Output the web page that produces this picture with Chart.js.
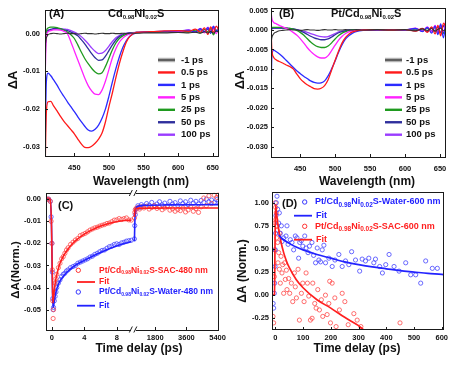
<!DOCTYPE html>
<html>
<head>
<meta charset="utf-8">
<title>Transient absorption</title>
<script src="https://cdn.jsdelivr.net/npm/chart.js@4.4.1/dist/chart.umd.min.js"></script>
<style>
  html, body { margin: 0; padding: 0; background: #fff; }
  #wrap { position: relative; width: 459px; height: 366px; overflow: hidden; background: #fff; }
  #wrap canvas { position: absolute; }
</style>
</head>
<body>
<div id="wrap">
  <canvas id="chartA" width="229" height="192" style="left:0;top:0"></canvas>
  <canvas id="chartB" width="230" height="192" style="left:229px;top:0"></canvas>
  <canvas id="chartC" width="229" height="183" style="left:0;top:183px"></canvas>
  <canvas id="chartD" width="230" height="183" style="left:229px;top:183px"></canvas>
</div>
<script>
const FONT = '"Liberation Sans", Arial, sans-serif';
const INK = "#111111";

// ---------------------- (A) / (B) spectra ----------------------
const wavelengths = [408, 409.5, 412, 416, 420, 425, 430, 435, 440, 445, 450, 455, 460, 465, 470, 475, 480, 485, 490, 495, 500, 505, 510, 515, 520, 525, 530, 540, 560, 580, 600, 615, 625, 632, 638, 643, 647, 651, 655, 659];
const delayLabels = ["-1 ps", "0.5 ps", "1 ps", "5 ps", "25 ps", "50 ps", "100 ps"];

// Cd0.98Ni0.02S
const aM1 = [-0.003, -0.0012, -0.0003, 0, 0.0001, 0, -0.0001, 0, 0.0001, 0, 0, -0.0001, 0, 0.0001, 0, 0, -0.0001, 0, 0.0001, 0, 0, 0.0001, 0, 0, 0.0001, 0, 0.0001, 0.0001, 0.0002, 0.0002, 0.0003, 0.0002, 0.0004, 0.0001, 0.0005, 0.0002, 0.0006, 0.0001, 0.0007, 0.0003];
const aP05 = [-0.034, -0.021, -0.0181, -0.0180, -0.0192, -0.0205, -0.0220, -0.0233, -0.0244, -0.0255, -0.0266, -0.0280, -0.0293, -0.0302, -0.0303, -0.0299, -0.0291, -0.0280, -0.0264, -0.0234, -0.0194, -0.0157, -0.0117, -0.0080, -0.0049, -0.0023, -0.0008, 0.0003, 0.0005, 0.0007, 0.0008, 0.0006, 0.0012, 0.0004, 0.0015, -0.0002, 0.0018, 0.0003, 0.0020, 0.0008];
const aP1 = [-0.028, -0.013, -0.0105, -0.0112, -0.0123, -0.0137, -0.0153, -0.0167, -0.0181, -0.0194, -0.0207, -0.0221, -0.0234, -0.0246, -0.0256, -0.0259, -0.0254, -0.0243, -0.0225, -0.0200, -0.0166, -0.0128, -0.0093, -0.0062, -0.0037, -0.0019, -0.0007, 0.0002, 0.0005, 0.0006, 0.0007, 0.0009, 0.0004, 0.0013, 0.0005, 0.0016, 0.0002, 0.0019, 0.0006, 0.0014];
const aP5 = [-0.010, -0.001, 0.0005, 0.0008, 0.0010, 0.0010, 0.0009, 0.0006, 0.0000, -0.0022, -0.0046, -0.0070, -0.0094, -0.0118, -0.0138, -0.0152, -0.0161, -0.0162, -0.0150, -0.0126, -0.0095, -0.0064, -0.0040, -0.0023, -0.0012, -0.0005, -0.0001, 0.0003, 0.0005, 0.0006, 0.0005, 0.0010, 0.0003, 0.0014, 0.0002, 0.0017, 0.0006, 0.0012, 0.0000, 0.0018];
const aP25 = [-0.006, 0.0005, 0.0015, 0.0017, 0.0017, 0.0016, 0.0013, 0.0009, 0.0004, -0.0003, -0.0013, -0.0030, -0.0049, -0.0066, -0.0080, -0.0092, -0.0102, -0.0107, -0.0104, -0.0087, -0.0065, -0.0043, -0.0025, -0.0013, -0.0006, -0.0002, 0.0000, 0.0003, 0.0004, 0.0005, 0.0006, 0.0004, 0.0009, 0.0002, 0.0011, 0.0005, 0.0013, -0.0003, 0.0010, 0.0004];
const aP50 = [-0.004, 0.0002, 0.0008, 0.0011, 0.0013, 0.0013, 0.0012, 0.0010, 0.0008, 0.0004, 0.0000, -0.0006, -0.0016, -0.0027, -0.0040, -0.0053, -0.0064, -0.0071, -0.0070, -0.0060, -0.0045, -0.0030, -0.0017, -0.0008, -0.0003, 0.0000, 0.0002, 0.0003, 0.0004, 0.0005, 0.0005, 0.0007, 0.0003, 0.0010, 0.0004, 0.0012, 0.0001, 0.0015, 0.0006, 0.0011];
const aP100 = [-0.002, 0.0004, 0.0009, 0.0011, 0.0012, 0.0013, 0.0013, 0.0012, 0.0011, 0.0008, 0.0004, -0.0001, -0.0008, -0.0017, -0.0027, -0.0038, -0.0047, -0.0053, -0.0052, -0.0045, -0.0033, -0.0021, -0.0011, -0.0005, -0.0001, 0.0001, 0.0002, 0.0003, 0.0004, 0.0005, 0.0006, 0.0008, 0.0004, 0.0012, 0.0006, 0.0014, 0.0008, 0.0020, 0.0005, 0.0016];

// Pt/Cd0.98Ni0.02S
const bM1 = [-0.004, -0.0020, -0.0010, -0.0005, -0.0002, -0.0001, 0, 0.0001, 0, 0, -0.0001, 0, 0.0001, 0, 0, -0.0001, 0, 0.0001, 0, 0, 0.0001, 0, 0, 0.0001, 0, 0, 0.0001, 0, 0.0001, 0, 0.0001, -0.0002, 0.0003, -0.0001, 0.0004, -0.0003, 0.0002, 0.0005, -0.0002, 0.0004];
const bP05 = [0.003, -0.005, -0.0070, -0.0077, -0.0081, -0.0085, -0.0090, -0.0094, -0.0100, -0.0113, -0.0125, -0.0134, -0.0141, -0.0146, -0.0151, -0.0152, -0.0150, -0.0143, -0.0128, -0.0103, -0.0078, -0.0054, -0.0033, -0.0019, -0.0010, -0.0005, -0.0002, 0.0000, 0.0001, 0.0000, 0.0001, -0.0003, 0.0004, -0.0006, 0.0008, -0.0010, 0.0012, -0.0015, 0.0018, 0.0005];
const bP1 = [-0.0227, -0.0070, -0.0052, -0.0056, -0.0061, -0.0069, -0.0078, -0.0087, -0.0096, -0.0105, -0.0112, -0.0119, -0.0125, -0.0131, -0.0135, -0.0137, -0.0136, -0.0131, -0.0118, -0.0100, -0.0080, -0.0057, -0.0038, -0.0023, -0.0014, -0.0008, -0.0004, -0.0001, 0.0000, 0.0001, 0.0000, 0.0004, -0.0004, 0.0007, -0.0008, 0.0010, -0.0012, 0.0016, -0.0020, 0.0030];
const bP5 = [0.0058, 0.0030, 0.0020, 0.0016, 0.0012, 0.0008, 0.0004, 0.0000, -0.0006, -0.0013, -0.0022, -0.0033, -0.0045, -0.0055, -0.0063, -0.0069, -0.0072, -0.0072, -0.0066, -0.0053, -0.0039, -0.0026, -0.0016, -0.0009, -0.0004, -0.0002, 0.0000, 0.0001, 0.0000, 0.0001, 0.0000, 0.0005, -0.0003, 0.0008, -0.0005, 0.0012, -0.0008, 0.0010, -0.0004, 0.0035];
const bP25 = [0.0008, 0.0007, 0.0007, 0.0007, 0.0007, 0.0006, 0.0005, 0.0004, 0.0002, -0.0001, -0.0006, -0.0013, -0.0022, -0.0031, -0.0038, -0.0043, -0.0045, -0.0045, -0.0041, -0.0033, -0.0023, -0.0014, -0.0008, -0.0004, -0.0001, 0.0000, 0.0000, 0.0001, 0.0000, 0.0001, 0.0000, 0.0003, -0.0002, 0.0005, -0.0004, 0.0008, -0.0006, 0.0010, -0.0008, 0.0012];
const bP50 = [-0.0010, 0.0003, 0.0005, 0.0005, 0.0005, 0.0005, 0.0005, 0.0004, 0.0003, 0.0001, -0.0002, -0.0006, -0.0011, -0.0016, -0.0020, -0.0023, -0.0025, -0.0025, -0.0023, -0.0018, -0.0012, -0.0007, -0.0004, -0.0002, 0.0000, 0.0000, 0.0000, 0.0000, 0.0001, 0.0000, 0.0001, -0.0002, 0.0003, -0.0004, 0.0006, -0.0003, 0.0009, -0.0007, 0.0011, -0.0006];
const bP100 = [0.0000, 0.0004, 0.0005, 0.0005, 0.0005, 0.0004, 0.0004, 0.0003, 0.0002, 0.0001, -0.0001, -0.0003, -0.0006, -0.0009, -0.0012, -0.0015, -0.0017, -0.0018, -0.0017, -0.0013, -0.0009, -0.0005, -0.0003, -0.0001, 0.0000, 0.0000, 0.0001, 0.0000, 0.0001, 0.0001, 0.0000, 0.0002, -0.0003, 0.0006, -0.0002, 0.0009, -0.0005, 0.0013, -0.0009, 0.0020];

const specTicks = [450, 500, 550, 600, 650];
const aYTicks = [-0.03, -0.02, -0.01, 0];
const bYTicks = [-0.03, -0.025, -0.02, -0.015, -0.01, -0.005, 0, 0.005];

// ---------------------- (C) kinetics at 480 nm ----------------------
const cEarlyT = [-0.6, -0.4, -0.2, -0.1, 0, 0.05, 0.1, 0.15, 0.2, 0.3, 0.4, 0.5, 0.6, 0.8, 1.0, 1.2, 1.4, 1.6, 1.8, 2.0, 2.3, 2.6, 2.9, 3.2, 3.5, 3.8, 4.1, 4.4, 4.7, 5.0, 5.3, 5.6, 5.9, 6.2, 6.5, 6.8, 7.1, 7.4, 7.7, 8.0, 8.3, 8.6, 8.9, 9.2, 9.5, 9.8];
const cSacEarly = [0, 0, -0.001, -0.010, -0.020, -0.032, -0.046, -0.054, -0.050, -0.042, -0.038, -0.036, -0.034, -0.031, -0.029, -0.027, -0.026, -0.0245, -0.023, -0.022, -0.0205, -0.0195, -0.0185, -0.0178, -0.0165, -0.016, -0.0155, -0.0148, -0.014, -0.0135, -0.013, -0.0127, -0.0122, -0.0118, -0.0115, -0.011, -0.0108, -0.0102, -0.0095, -0.0094, -0.0088, -0.0092, -0.0088, -0.0085, -0.0094, -0.0095];
const cWaterEarly = [0, 0, -0.001, -0.008, -0.020, -0.033, -0.045, -0.050, -0.049, -0.046, -0.044, -0.042, -0.040, -0.038, -0.0365, -0.035, -0.034, -0.0335, -0.0325, -0.032, -0.031, -0.0305, -0.030, -0.029, -0.0285, -0.028, -0.0275, -0.027, -0.0262, -0.0258, -0.025, -0.0245, -0.0238, -0.0232, -0.023, -0.0222, -0.0215, -0.0212, -0.0205, -0.0202, -0.0205, -0.0198, -0.0195, -0.019, -0.0188, -0.0186];
const cLateT = [600, 620, 650, 700, 800, 900, 1000, 1150, 1300, 1450, 1600, 1750, 1900, 2050, 2200, 2350, 2500, 2650, 2800, 2950, 3100, 3250, 3400, 3550, 3700, 3850, 4000, 4150, 4300, 4450, 4600, 4750, 4900, 5050, 5200, 5350, 5450];
const cSacLate = [-0.0085, -0.0060, -0.0048, -0.0042, -0.0038, -0.0045, -0.0035, -0.0040, -0.0032, -0.0045, -0.0038, -0.0030, -0.0042, -0.0036, -0.0048, -0.0040, -0.0033, -0.0050, -0.0044, -0.0055, -0.0047, -0.0052, -0.0040, -0.0058, -0.0049, -0.0036, -0.0055, -0.0043, -0.0060, -0.0035, 0.0005, -0.0030, 0.0015, -0.0020, 0.0018, 0.0008, 0.0020];
const cWaterLate = [-0.0180, -0.0120, -0.0070, -0.0045, -0.0030, -0.0038, -0.0025, -0.0032, -0.0020, -0.0028, -0.0015, -0.0030, -0.0022, -0.0012, -0.0026, -0.0018, -0.0030, -0.0010, -0.0022, -0.0016, -0.0028, -0.0008, -0.0020, -0.0012, -0.0025, -0.0005, -0.0018, -0.0010, -0.0022, -0.0006, -0.0015, 0.0000, -0.0012, -0.0004, -0.0016, -0.0002, -0.0010];
const cFitT = [-0.6, -0.2, -0.05, 0.05, 0.12, 0.2, 0.3, 0.5, 0.75, 1, 1.5, 2, 2.5, 3, 4, 5, 6, 7, 8, 9, 9.8];
const cSacFit = [0, 0, -0.012, -0.035, -0.047, -0.045, -0.041, -0.036, -0.032, -0.029, -0.0252, -0.0225, -0.0203, -0.0185, -0.0158, -0.0138, -0.0122, -0.0110, -0.0102, -0.0097, -0.0095];
const cWaterFit = [0, 0, -0.012, -0.036, -0.049, -0.0485, -0.046, -0.042, -0.039, -0.037, -0.0345, -0.0325, -0.031, -0.0297, -0.0277, -0.0258, -0.0241, -0.0226, -0.0212, -0.0200, -0.0192];
const cFitLateT = [600, 630, 680, 800, 1200, 2500, 5450];
const cSacFitLate = [-0.0080, -0.0052, -0.0043, -0.0041, -0.0041, -0.0040, -0.0040];
const cWaterFitLate = [-0.0190, -0.0090, -0.0045, -0.0032, -0.0028, -0.0026, -0.0025];
const cTickTimes = [0, 4, 8, 1800, 3600, 5400];
const cYTicks = [-0.05, -0.04, -0.03, -0.02, -0.01, 0];

// ---------------------- (D) kinetics at 600 nm ----------------------
const dWaterPts = [[-8, -0.09], [-6, -0.14], [-3.6, 0.02], [-2.4, 0.13], [-1.2, 0.31], [0, 0.49], [1.2, 0.67], [2.4, 0.86], [3.6, 1.0], [6, 1.07], [8.4, 0.93], [12, 0.78], [14.5, 0.89], [18, 0.67], [21.7, 0.75], [24, 0.58], [30, 0.62], [38.5, 0.64], [42, 0.75], [46, 0.55], [54, 0.60], [60, 0.57], [66, 0.49], [72, 0.64], [78, 0.62], [84, 0.40], [88, 0.57], [94, 0.59], [99, 0.53], [106, 0.64], [111, 0.51], [118, 0.46], [123, 0.53], [132, 0.57], [138, 0.43], [145, 0.35], [151, 0.51], [157, 0.38], [163, 0.36], [169, 0.49], [175, 0.54], [181, 0.35], [193, 0.40], [205, 0.31], [215, 0.38], [229, 0.44], [241, 0.31], [253, 0.37], [265, 0.33], [275, 0.47], [289, 0.38], [304, 0.26], [313, 0.39], [325, 0.37], [337, 0.40], [355, 0.35], [361, 0.39], [376, 0.31], [386, 0.24], [398, 0.33], [410, 0.44], [428, 0.31], [446, 0.26], [470, 0.35], [488, 0.22], [506, 0.22], [524, 0.13], [542, 0.37], [566, 0.29], [584, 0.29]];
const dSacPts = [[-8.4, -0.23], [-6, -0.30], [-3.6, 0.20], [-2.4, 0.49], [-1.2, 0.78], [0, 1.0], [1.2, 0.95], [2, 0.82], [3.6, 0.89], [4.8, 0.62], [6, 0.75], [7, 0.70], [8.4, 0.57], [9.6, 0.35], [12, 0.46], [14.5, 0.28], [15.7, 0.67], [18, 0.13], [20.5, 0.42], [24, 0.24], [26.5, 0.33], [30, 0.02], [33.7, 0.35], [36, 0.17], [39.8, 0.27], [42, 0.06], [48, 0.18], [51.8, 0.02], [57.8, 0.13], [62.7, -0.07], [68.7, 0.24], [72, 0.09], [76, -0.03], [82, 0.28], [86.7, -0.27], [94, 0.02], [98.8, 0.13], [103.6, -0.07], [110.8, 0.24], [115.7, 0.13], [120.5, -0.01], [126.5, -0.27], [132.5, -0.25], [135, 0.13], [142, -0.09], [147, -0.14], [153, 0.06], [159, -0.16], [166, -0.05], [171, -0.23], [180.7, 0.0], [186.7, -0.21], [192.8, -0.09], [196, 0.15], [198.8, -0.30], [204.8, 0.13], [214.5, -0.03], [219, -0.34], [231, -0.16], [241, 0.02], [250.6, -0.07], [262.6, -0.32], [283, -0.2], [295, -0.27], [308.4, -0.34], [449.4, -0.30]];
const dWaterFitT = [12, 25, 50, 75, 100, 150, 200, 250, 300, 350, 400, 450, 500, 550, 600, 610];
const dWaterFitV = [0.65, 0.61, 0.56, 0.52, 0.49, 0.44, 0.40, 0.36, 0.33, 0.305, 0.285, 0.265, 0.25, 0.235, 0.225, 0.222];
const dSacFitT = [-10, -3, -1, 1, 3, 6, 10, 15, 20, 30, 40, 50, 75, 100, 150, 200, 250, 300, 320];
const dSacFitV = [0, 0.01, 0.6, 0.98, 0.92, 0.84, 0.75, 0.66, 0.58, 0.46, 0.37, 0.30, 0.17, 0.08, -0.05, -0.14, -0.24, -0.33, -0.38];
const dXTicks = [0, 100, 200, 300, 400, 500, 600];
const dYTicks = [-0.25, 0, 0.25, 0.5, 0.75, 1];

// ---------------------- styles ----------------------
const delayColors = ["#333333", "#ff1a1a", "#2b2bff", "#ff22ff", "#1f9a1f", "#2f2f9c", "#9a3cff"];
const RED = "#ff1f1f", BLUE = "#2222ff", RED_PT = "#ff4a4a", BLUE_PT = "#4545ff";

// broken time axis of (C): 0-10 ps as is, long delays squeezed after the break
function brk(t) {
  return t <= 10 ? t : 12.75 + (t - 1800) / 467.5;
}

function toPts(xs, ys, f) {
  return xs.map((x, i) => ({ x: f ? f(x) : x, y: ys[i] }));
}

function lineSet(data, color, width) {
  return { data, borderColor: color, borderWidth: width, pointRadius: 0, fill: false, cubicInterpolationMode: "monotone" };
}

function dotSet(data, color) {
  return { data, showLine: false, borderColor: color, pointBorderColor: color, pointBackgroundColor: "rgba(0,0,0,0)", pointRadius: 2.1, pointBorderWidth: 0.8 };
}

// text with subscripts: parts = [[text, isSub], ...]
function rich(ctx, parts, x, y, size, opt) {
  opt = opt || {};
  const sub = opt.sub || size * 0.6;
  const fontOf = (p) => `bold ${p[1] ? sub : size}px ${FONT}`;
  ctx.save();
  ctx.fillStyle = opt.color || INK;
  ctx.textBaseline = "middle";
  ctx.textAlign = "left";
  const w = parts.map((p) => { ctx.font = fontOf(p); return ctx.measureText(p[0]).width; });
  const total = w.reduce((s, v) => s + v, 0);
  ctx.translate(x, y);
  if (opt.rotate) ctx.rotate(opt.rotate);
  let cx = opt.center ? -total / 2 : 0;
  parts.forEach((p, i) => {
    ctx.font = fontOf(p);
    ctx.fillText(p[0], cx, p[1] ? size * 0.32 : 0);
    cx += w[i];
  });
  ctx.restore();
}

// frame, inner ticks, break marks, labels and hand placed legend of one panel
function panelPlugin(cfg) {
  return {
    id: "panel" + cfg.name,
    afterDraw(chart) {
      const ctx = chart.ctx, a = chart.chartArea;
      const xs = chart.scales.x, ys = chart.scales.y;
      ctx.save();
      ctx.strokeStyle = "#1a1a1a";
      ctx.lineWidth = 1;
      ctx.strokeRect(Math.round(a.left) + 0.5, Math.round(a.top) + 0.5, Math.round(a.width) - 1, Math.round(a.height) - 1);
      ctx.beginPath();
      xs.ticks.forEach((t) => {
        const p = Math.round(xs.getPixelForValue(t.value)) + 0.5;
        ctx.moveTo(p, a.bottom); ctx.lineTo(p, a.bottom - 3);
      });
      ys.ticks.forEach((t) => {
        const p = Math.round(ys.getPixelForValue(t.value)) + 0.5;
        ctx.moveTo(a.left, p); ctx.lineTo(a.left + 3, p);
      });
      ctx.stroke();

      if (cfg.breakU !== undefined) {
        const bx = xs.getPixelForValue(cfg.breakU);
        [a.top + 0.5, a.bottom - 0.5].forEach((yy) => {
          ctx.fillStyle = "#fff";
          ctx.fillRect(bx - 2.5, yy - 1.5, 5, 3);
          ctx.beginPath();
          ctx.moveTo(bx - 4, yy + 3); ctx.lineTo(bx - 1, yy - 3);
          ctx.moveTo(bx + 0.5, yy + 3); ctx.lineTo(bx + 3.5, yy - 3);
          ctx.stroke();
        });
      }

      cfg.texts.forEach((t) => rich(ctx, t.parts, t.x, t.y, t.size, t));

      if (cfg.delayLegend) {
        const L = cfg.delayLegend;
        chart.data.datasets.forEach((ds, i) => {
          const y = L.y0 + i * L.dy;
          ctx.lineCap = "butt";
          if (i === 0) {
            ctx.strokeStyle = "#b4b4b4"; ctx.lineWidth = 4.5;
            ctx.beginPath(); ctx.moveTo(L.x0, y); ctx.lineTo(L.x1, y); ctx.stroke();
            ctx.strokeStyle = "#444"; ctx.lineWidth = 1.5;
          } else {
            ctx.strokeStyle = ds.borderColor; ctx.lineWidth = 2.4;
          }
          ctx.beginPath(); ctx.moveTo(L.x0, y); ctx.lineTo(L.x1, y); ctx.stroke();
          rich(ctx, [[ds.label]], L.tx, y, L.size);
        });
      }

      (cfg.keys || []).forEach((k) => {
        ctx.strokeStyle = k.color;
        if (k.kind === "dot") {
          ctx.lineWidth = 0.9;
          ctx.beginPath(); ctx.arc(k.x, k.y, 2.2, 0, Math.PI * 2); ctx.stroke();
        } else {
          ctx.lineWidth = 1.8;
          ctx.beginPath(); ctx.moveTo(k.x, k.y); ctx.lineTo(k.x2, k.y); ctx.stroke();
        }
        rich(ctx, k.parts, k.tx, k.y, k.size, { color: k.color, sub: k.sub });
      });
      ctx.restore();
    }
  };
}

function makeChart(id, datasets, o) {
  const tickFont = { family: FONT, size: 7.5, weight: "bold" };
  return new Chart(document.getElementById(id), {
    type: "line",
    data: { datasets },
    options: {
      responsive: false,
      animation: false,
      events: [],
      layout: { padding: o.pad },
      plugins: { legend: { display: false }, tooltip: { enabled: false } },
      scales: {
        x: {
          type: "linear", min: o.xMin, max: o.xMax,
          afterFit: (s) => { s.height = o.xH; },
          afterBuildTicks: (s) => { s.ticks = o.xTicks.map((v) => ({ value: v })); },
          grid: { display: false, drawTicks: false, tickLength: 0 },
          border: { display: false },
          ticks: { font: tickFont, color: INK, padding: o.xPad, maxRotation: 0, autoSkip: false, callback: o.xFmt }
        },
        y: {
          type: "linear", min: o.yMin, max: o.yMax,
          afterFit: (s) => { s.width = o.yW; },
          afterBuildTicks: (s) => { s.ticks = o.yTicks.map((v) => ({ value: v })); },
          grid: { display: false, drawTicks: false, tickLength: 0 },
          border: { display: false },
          ticks: { font: tickFont, color: INK, padding: o.yPad, autoSkip: false, callback: o.yFmt }
        }
      }
    },
    plugins: [panelPlugin(o)]
  });
}

const UP = -Math.PI / 2;
const cdniTitle = [["Cd"], ["0.98", 1], ["Ni"], ["0.02", 1], ["S"]];
const ptTitle = [["Pt/Cd"], ["0.98", 1], ["Ni"], ["0.02", 1], ["S"]];
const sampleName = (tail) => [["Pt/Cd"], ["0.98", 1], ["Ni"], ["0.02", 1], [tail]];

// ---------------------- (A) ----------------------
const aSeries = [aM1, aP05, aP1, aP5, aP25, aP50, aP100];
makeChart("chartA",
  aSeries.map((s, i) => Object.assign(lineSet(toPts(wavelengths, s), delayColors[i], i === 0 ? 1.1 : 1.3), { label: delayLabels[i] })),
  {
    name: "A", pad: { left: 0, top: 4, right: 10, bottom: 0 }, yW: 45, xH: 36, xPad: 7, yPad: 5,
    xMin: 407.6, xMax: 659, yMin: -0.0325, yMax: 0.0064,
    xTicks: specTicks, yTicks: aYTicks,
    xFmt: (v) => String(v), yFmt: (v) => v.toFixed(2),
    texts: [
      { parts: [["(A)"]], x: 49, y: 14, size: 11 },
      { parts: cdniTitle, x: 108, y: 14, size: 11, sub: 6 },
      { parts: [["\u0394A"]], x: 13, y: 80, size: 13, rotate: UP, center: true },
      { parts: [["Wavelength (nm)"]], x: 141, y: 182, size: 12, center: true }
    ],
    delayLegend: { x0: 158, x1: 175, tx: 181, y0: 60, dy: 12.45, size: 9.5 }
  });

// ---------------------- (B) ----------------------
const bSeries = [bM1, bP05, bP1, bP5, bP25, bP50, bP100];
makeChart("chartB",
  bSeries.map((s, i) => Object.assign(lineSet(toPts(wavelengths, s), delayColors[i], i === 0 ? 1.1 : 1.3), { label: delayLabels[i] })),
  {
    name: "B", pad: { left: 0, top: 3, right: 13, bottom: 0 }, yW: 42, xH: 35, xPad: 7, yPad: 3,
    xMin: 408.3, xMax: 658.6, yMin: -0.0327, yMax: 0.0058,
    xTicks: specTicks, yTicks: bYTicks,
    xFmt: (v) => String(v), yFmt: (v) => v.toFixed(3),
    texts: [
      { parts: [["(B)"]], x: 50, y: 14, size: 11 },
      { parts: ptTitle, x: 102, y: 14, size: 11, sub: 6 },
      { parts: [["\u0394A"]], x: 11, y: 80, size: 13, rotate: UP, center: true },
      { parts: [["Wavelength (nm)"]], x: 138, y: 182, size: 12, center: true }
    ],
    delayLegend: { x0: 156, x1: 173, tx: 177, y0: 60, dy: 12.45, size: 9.5 }
  });

// ---------------------- (C) ----------------------
makeChart("chartC",
  [
    lineSet(toPts(cFitT, cSacFit, brk), RED, 1.6),
    lineSet(toPts(cFitLateT, cSacFitLate, brk), RED, 1.6),
    lineSet(toPts(cFitT, cWaterFit, brk), BLUE, 1.6),
    lineSet(toPts(cFitLateT, cWaterFitLate, brk), BLUE, 1.6),
    dotSet(toPts(cEarlyT, cSacEarly, brk), RED_PT),
    dotSet(toPts(cLateT, cSacLate, brk), RED_PT),
    dotSet(toPts(cEarlyT, cWaterEarly, brk), BLUE_PT),
    dotSet(toPts(cLateT, cWaterLate, brk), BLUE_PT)
  ],
  {
    name: "C", pad: { left: 0, top: 9, right: 8, bottom: 0 }, yW: 46, xH: 36, xPad: 3, yPad: 5,
    xMin: -0.73, xMax: 20.6, yMin: -0.0592, yMax: 0.003,
    xTicks: cTickTimes.map(brk), yTicks: cYTicks,
    xFmt: (v, i) => String(cTickTimes[i]), yFmt: (v) => v.toFixed(2),
    breakU: 10.05,
    texts: [
      { parts: [["(C)"]], x: 58, y: 23, size: 11 },
      { parts: [["\u0394A(Norm.)"]], x: 16, y: 87, size: 11.5, rotate: UP, center: true },
      { parts: [["Time delay (ps)"]], x: 139, y: 166, size: 12, center: true }
    ],
    keys: [
      { kind: "dot", color: RED, x: 78.3, y: 87.3, tx: 99, parts: sampleName("S-SAC-480 nm"), size: 8.5, sub: 5 },
      { kind: "line", color: RED, x: 77, x2: 95, y: 99, tx: 99, parts: [["Fit"]], size: 8.5 },
      { kind: "dot", color: BLUE, x: 78.3, y: 109, tx: 99, parts: sampleName("S-Water-480 nm"), size: 8.5, sub: 5 },
      { kind: "line", color: BLUE, x: 77, x2: 95, y: 122.7, tx: 99, parts: [["Fit"]], size: 8.5 }
    ]
  });

// ---------------------- (D) ----------------------
const pairPts = (arr) => arr.map((p) => ({ x: p[0], y: p[1] }));
makeChart("chartD",
  [
    lineSet(toPts(dWaterFitT, dWaterFitV), BLUE, 1.7),
    lineSet(toPts(dSacFitT, dSacFitV), RED, 1.7),
    dotSet(pairPts(dWaterPts), BLUE_PT),
    dotSet(pairPts(dSacPts), RED_PT)
  ],
  {
    name: "D", pad: { left: 0, top: 9, right: 15, bottom: 0 }, yW: 43, xH: 36, xPad: 3, yPad: 3,
    xMin: -12, xMax: 608, yMin: -0.377, yMax: 1.116,
    xTicks: dXTicks, yTicks: dYTicks,
    xFmt: (v) => String(v), yFmt: (v) => v.toFixed(2),
    texts: [
      { parts: [["(D)"]], x: 53, y: 21, size: 11 },
      { parts: [["\u0394A (Norm.)"]], x: 13.3, y: 88, size: 12, rotate: UP, center: true },
      { parts: [["Time delay (ps)"]], x: 128, y: 166, size: 12, center: true }
    ],
    keys: [
      { kind: "dot", color: BLUE, x: 75.7, y: 19, tx: 86, parts: sampleName("S-Water-600 nm"), size: 9, sub: 6.5 },
      { kind: "line", color: BLUE, x: 65, x2: 83, y: 32.7, tx: 87, parts: [["Fit"]], size: 9 },
      { kind: "dot", color: RED, x: 75.7, y: 43.3, tx: 86, parts: sampleName("S-SAC-600 nm"), size: 9, sub: 6.5 },
      { kind: "line", color: RED, x: 65, x2: 83, y: 56.7, tx: 87, parts: [["Fit"]], size: 9 }
    ]
  });
</script>
</body>
</html>
